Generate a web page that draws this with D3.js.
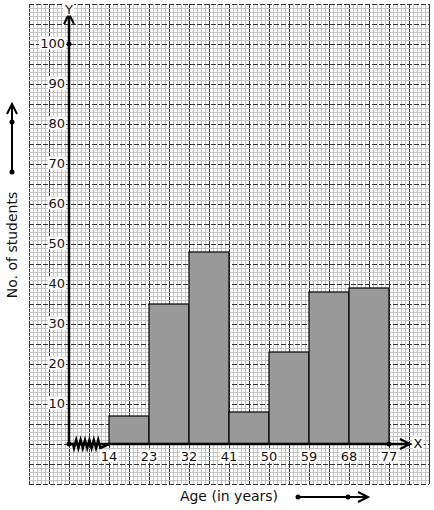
<!DOCTYPE html>
<html>
<head>
<meta charset="utf-8">
<script src="https://cdn.jsdelivr.net/npm/d3@7"></script>
<style>
  body { margin: 0; background: #fff; }
  svg text { font-family: "DejaVu Sans", sans-serif; }
</style>
</head>
<body>
<div id="chart"></div>
<script>
// class boundaries and frequencies
const edges = [14, 23, 32, 41, 50, 59, 68, 77];
const counts = [7, 35, 48, 8, 23, 38, 39];
const yTicks = [10, 20, 30, 40, 50, 60, 70, 80, 90, 100];

const width = 434;
const height = 510;
const grid = {left: 29, top: 4, right: 429, bottom: 484};

const svg = d3.select('#chart')
  .append('svg')
    .attr('width', width)
    .attr('height', height);

// y: 4px per student, x: 40px per class width (axis origin stands for 5, broken axis)
const yScale = d3.scaleLinear().domain([0, 100]).range([444, 44]);
const xScale = d3.scaleLinear().domain([5, 77]).range([69, 389]);

// graph paper
const gridG = svg.append('g').attr('shape-rendering', 'crispEdges');
for (let px = grid.left; px <= grid.right; px += 4) {
  const major = (px - grid.left) % 20 === 0;
  gridG.append('line')
    .attr('x1', px + 0.5).attr('x2', px + 0.5)
    .attr('y1', grid.top).attr('y2', grid.bottom)
    .attr('stroke', major ? '#333' : '#c4c4c4')
    .attr('stroke-width', 1);
}
for (let py = grid.top; py <= grid.bottom; py += 4) {
  const major = (py - grid.top) % 20 === 0;
  gridG.append('line')
    .attr('x1', grid.left).attr('x2', grid.right)
    .attr('y1', py + 0.5).attr('y2', py + 0.5)
    .attr('stroke', major ? '#333' : '#c4c4c4')
    .attr('stroke-dasharray', major ? '5 2' : null)
    .attr('stroke-width', 1);
}

// bars
const bins = counts.map((c, i) => ({x0: edges[i], x1: edges[i + 1], n: c}));
svg.append('g')
  .selectAll('rect')
  .data(bins)
  .join('rect')
    .attr('x', d => xScale(d.x0))
    .attr('y', d => yScale(d.n))
    .attr('width', d => xScale(d.x1) - xScale(d.x0))
    .attr('height', d => yScale(0) - yScale(d.n))
    .attr('fill', '#999')
    .attr('stroke', '#000')
    .attr('stroke-width', 1.2);

// axes
const x0 = xScale(5), y0 = yScale(0);
const axisG = svg.append('g').attr('stroke', '#000').attr('fill', 'none');
axisG.append('line')
  .attr('x1', x0).attr('y1', y0).attr('x2', x0).attr('y2', 14)
  .attr('stroke-width', 2.5);
axisG.append('path')
  .attr('d', `M${x0 - 5},${24} L${x0},${14} L${x0 + 5},${24}`)
  .attr('stroke-width', 2);
axisG.append('line')
  .attr('x1', x0).attr('y1', y0).attr('x2', 410).attr('y2', y0)
  .attr('stroke-width', 2.5);
axisG.append('path')
  .attr('d', `M${400},${y0 - 5} L${410},${y0} L${400},${y0 + 5}`)
  .attr('stroke-width', 2);

// broken axis zigzag
const zig = [];
for (let i = 0; i <= 12; i++) zig.push([x0 + 5 + i * 2.2, y0 + (i % 2 ? -4 : 4)]);
axisG.append('path')
  .attr('d', `M${x0},${y0} L${x0 + 4},${y0} ` + zig.map(p => `L${p[0]},${p[1]}`).join(' ') + ` L${xScale(14)},${y0}`)
  .attr('stroke-width', 2.5);

svg.append('circle').attr('cx', x0).attr('cy', y0).attr('r', 2.5).attr('fill', '#000');
svg.append('circle').attr('cx', x0).attr('cy', yScale(100)).attr('r', 2.5).attr('fill', '#000');
svg.append('circle').attr('cx', xScale(77)).attr('cy', y0).attr('r', 2.5).attr('fill', '#000');

// tick labels with white backing
function label(x, y, txt, anchor) {
  const t = svg.append('text')
    .attr('x', x).attr('y', y)
    .attr('text-anchor', anchor)
    .attr('dominant-baseline', 'middle')
    .attr('font-size', 13)
    .attr('fill', '#111')
    .text(txt);
  const b = t.node().getBBox();
  svg.insert('rect', () => t.node())
    .attr('x', b.x - 1).attr('y', b.y + 1)
    .attr('width', b.width + 2).attr('height', b.height - 2)
    .attr('fill', '#fff');
}
yTicks.forEach(v => label(x0 - 4, yScale(v), v, 'end'));
edges.forEach(v => label(xScale(v), y0 + 13, v, 'middle'));
label(x0, 10, 'Y', 'middle');
label(418, y0, 'X', 'middle');

// axis titles
svg.append('text')
  .attr('transform', `translate(17, 245) rotate(-90)`)
  .attr('text-anchor', 'middle')
  .attr('font-size', 14)
  .attr('fill', '#111')
  .text('No. of students');
svg.append('text')
  .attr('x', 229).attr('y', 501)
  .attr('text-anchor', 'middle')
  .attr('font-size', 14)
  .attr('fill', '#111')
  .text('Age (in years)');

// direction arrows
const arr = svg.append('g').attr('stroke', '#000').attr('fill', 'none').attr('stroke-width', 2);
arr.append('line').attr('x1', 12).attr('y1', 172).attr('x2', 12).attr('y2', 104);
arr.append('path').attr('d', 'M7,114 L12,104 L17,114');
svg.append('circle').attr('cx', 12).attr('cy', 172).attr('r', 2.5).attr('fill', '#000');
svg.append('circle').attr('cx', 12).attr('cy', 122).attr('r', 2.5).attr('fill', '#000');
arr.append('line').attr('x1', 298).attr('y1', 497).attr('x2', 368).attr('y2', 497);
arr.append('path').attr('d', 'M358,492 L368,497 L358,502');
svg.append('circle').attr('cx', 298).attr('cy', 497).attr('r', 2.5).attr('fill', '#000');
svg.append('circle').attr('cx', 348).attr('cy', 497).attr('r', 2.5).attr('fill', '#000');
</script>
</body>
</html>
